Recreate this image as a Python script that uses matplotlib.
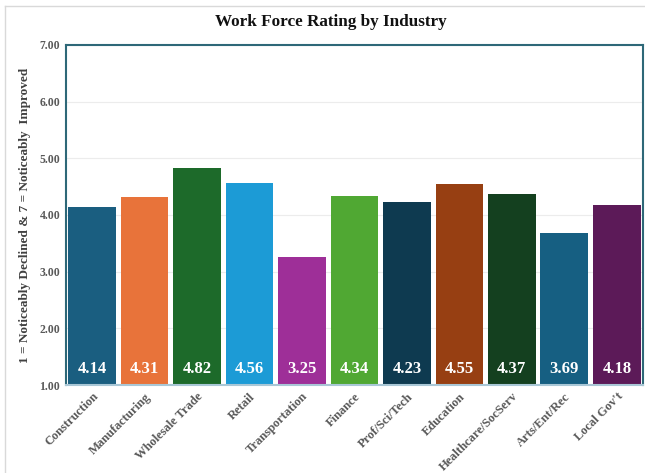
import numpy as np
import matplotlib
matplotlib.use('Agg')
import matplotlib.pyplot as plt
from matplotlib.lines import Line2D

industries = ['Construction', 'Manufacturing', 'Wholesale Trade', 'Retail',
              'Transportation', 'Finance', 'Prof/Sci/Tech', 'Education',
              'Healthcare/SocServ', 'Arts/Ent/Rec', "Local Gov't"]
ratings = [4.14, 4.31, 4.82, 4.56, 3.25, 4.34, 4.23, 4.55, 4.37, 3.69, 4.18]
colores = ['#1a5e80', '#e8733a', '#1d6a2a', '#1c9bd6', '#9e2f98', '#50a833',
           '#0e3a50', '#973f12', '#14401f', '#165f82', '#5c1a58']
yticks = [1, 2, 3, 4, 5, 6, 7]

plt.rcParams['font.family'] = 'Liberation Serif'
plt.rcParams['font.weight'] = 'bold'

fig = plt.figure(figsize=(6.45, 4.73), dpi=100)
ax = fig.add_axes([0.102, 0.186, 0.895, 0.719])

# marco gris de la imagen
fig.add_artist(Line2D([5/645, 1], [1 - 6/473, 1 - 6/473], color='#d9d9d9', lw=1))
fig.add_artist(Line2D([5/645, 5/645], [0, 1 - 6/473], color='#d9d9d9', lw=1))

x = np.arange(len(industries))
ax.bar(x, np.array(ratings) - 1, bottom=1, width=0.91, color=colores, zorder=2)
for xi, v in zip(x, ratings):
    ax.text(xi, 1.28, f'{v:.2f}', ha='center', va='center', color='white',
            fontsize=12, fontweight='bold', zorder=3)

ax.set_xlim(-0.5, len(industries) - 0.5)
ax.set_ylim(1, 7)
ax.set_yticks(yticks)
ax.set_yticklabels([f'{t:.2f}' for t in yticks], color='#595959', fontsize=8.5,
                   fontweight='bold')
ax.set_xticks(x)
ax.set_xticklabels(industries, rotation=45, ha='right', rotation_mode='anchor',
                   color='#595959', fontsize=9, fontweight='bold')
ax.tick_params(length=0, pad=4)
ax.grid(axis='y', color='#ececec', lw=0.8, zorder=0)
for s in ['left', 'top', 'right']:
    ax.spines[s].set_color('#2e6878')
    ax.spines[s].set_linewidth(1.5)
ax.spines['bottom'].set_color('#a9c7d6')
ax.spines['bottom'].set_linewidth(1.5)

ax.set_ylabel('1 = Noticeably Declined & 7 = Noticeably  Improved',
              fontsize=9.5, color='#404040', fontweight='bold', labelpad=6)
fig.text(0.513, 1 - 22/473, 'Work Force Rating by Industry', ha='center',
         va='center', fontsize=12.3, fontweight='bold', color='#111111')

plt.savefig('out.png', dpi=100)
